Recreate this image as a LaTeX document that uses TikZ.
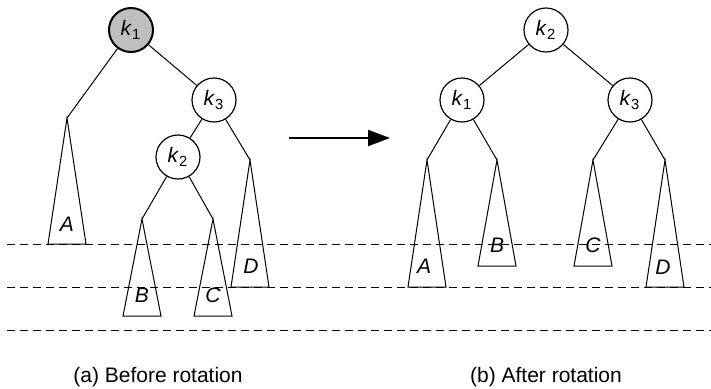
\documentclass[tikz,border=0pt]{standalone}
\usepackage{fontspec}
\setmainfont{Liberation Sans}
\usetikzlibrary{arrows.meta}

\newcommand{\keylabel}[1]{\textit{k}\textsubscript{#1}}

\tikzset{
  every node/.style={font=\fontsize{10.5}{12}\selectfont},
  keynode/.style={draw, circle, line width=0.6pt, minimum size=22pt, inner sep=0pt, fill=white},
  rootnode/.style={keynode, fill=black!25, line width=1pt},
  link/.style={line width=0.5pt},
  depthline/.style={line width=0.5pt, dash pattern=on 4pt off 2.5pt},
  subtree/.style={font=\fontsize{10.5}{12}\selectfont\itshape},
}

\begin{document}
\begin{tikzpicture}[x=0.5pt,y=-0.5pt]
  \useasboundingbox (0,0) rectangle (711,388);
  % depth levels
  \foreach \y in {244,287,330}
    \draw[depthline] (7,\y) -- (711,\y);

  % (a) before rotation
  \node[rootnode] (l1) at (131,30) {\keylabel{1}};
  \node[keynode] (l3) at (214,100) {\keylabel{3}};
  \node[keynode] (l2) at (178,157) {\keylabel{2}};
  \coordinate (lA) at (67,118);
  \coordinate (lB) at (142,219);
  \coordinate (lC) at (213,219);
  \coordinate (lD) at (250,160);
  \draw[link] (l1) -- (lA);
  \draw[link] (l1) -- (l3);
  \draw[link] (l3) -- (l2);
  \draw[link] (l3) -- (lD);
  \draw[link] (l2) -- (lB);
  \draw[link] (l2) -- (lC);
  \draw[link] (lA) -- ++(-19,126) -- ++(38,0) -- cycle;
  \draw[link] (lB) -- ++(-19,97) -- ++(38,0) -- cycle;
  \draw[link] (lC) -- ++(-19,97) -- ++(38,0) -- cycle;
  \draw[link] (lD) -- ++(-19,127) -- ++(38,0) -- cycle;
  \node[subtree] (la) at (67,224) {A};
  \node[subtree] (lb) at (142,295) {B};
  \node[subtree] (lc) at (213,295) {C};
  \node[subtree] (ld) at (251,266) {D};

  % arrow
  \coordinate (from) at (289,138);
  \coordinate (to) at (390,138);
  \draw[line width=1pt, -{Triangle[length=11pt,width=8pt]}] (from) -- (to);

  % (b) after rotation
  \node[keynode] (r2) at (546,30) {\keylabel{2}};
  \node[keynode] (r1) at (462,100) {\keylabel{1}};
  \node[keynode] (r3) at (630,100) {\keylabel{3}};
  \coordinate (rA) at (427,160);
  \coordinate (rB) at (497,160);
  \coordinate (rC) at (593,160);
  \coordinate (rD) at (665,160);
  \draw[link] (r2) -- (r1);
  \draw[link] (r2) -- (r3);
  \draw[link] (r1) -- (rA);
  \draw[link] (r1) -- (rB);
  \draw[link] (r3) -- (rC);
  \draw[link] (r3) -- (rD);
  \draw[link] (rA) -- ++(-19,127) -- ++(38,0) -- cycle;
  \draw[link] (rB) -- ++(-19,106) -- ++(38,0) -- cycle;
  \draw[link] (rC) -- ++(-19,106) -- ++(38,0) -- cycle;
  \draw[link] (rD) -- ++(-19,127) -- ++(38,0) -- cycle;
  \node[subtree] (ra) at (424,266) {A};
  \node[subtree] (rb) at (497,245) {B};
  \node[subtree] (rc) at (593,245) {C};
  \node[subtree] (rd) at (663,267) {D};

  % captions
  \node (capa) at (158,377) {(a) Before rotation};
  \node (capb) at (546,377) {(b) After rotation};
\end{tikzpicture}
\end{document}
